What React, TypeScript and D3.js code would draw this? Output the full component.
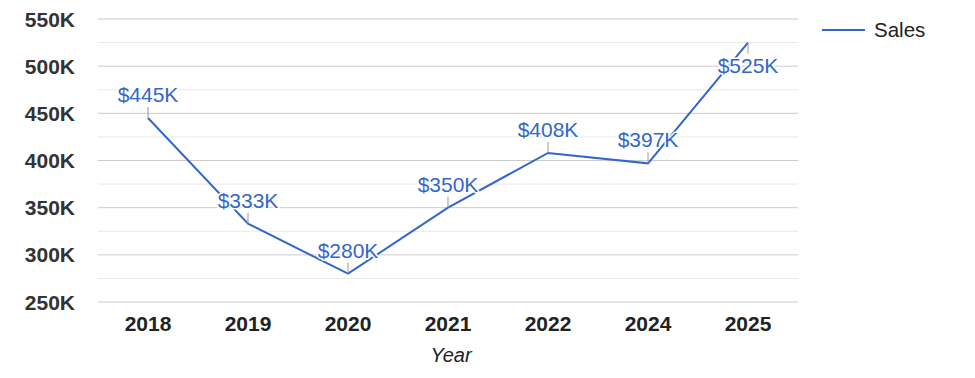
import React from "react";
import * as d3 from "d3";

const years = ["2018", "2019", "2020", "2021", "2022", "2024", "2025"];
const sales = [445, 333, 280, 350, 408, 397, 525];
const labels = ["$445K", "$333K", "$280K", "$350K", "$408K", "$397K", "$525K"];
const labelBelow = [false, false, false, false, false, false, true];
const yTicks = [250, 300, 350, 400, 450, 500, 550];
const minorTicks = [275, 325, 375, 425, 475, 525];

const W = 975, H = 378;
const M = { left: 98, right: 798, top: 19, bottom: 302 };
const FONT = "'Liberation Sans', Arial, sans-serif";
const BLUE = "#3366cc";

export default function App() {
  const x = d3.scalePoint<string>().domain(years).range([M.left, M.right]).padding(0.5);
  const y = d3.scaleLinear().domain([250, 550]).range([M.bottom, M.top]);
  const line = d3.line<number>().x((_, i) => x(years[i])!).y((d) => y(d));
  return (
    <svg width={W} height={H} style={{ position: "absolute", left: 0, top: 0, fontFamily: FONT }}>
      {minorTicks.map((t) => (
        <line key={"m" + t} x1={M.left} x2={M.right} y1={y(t)} y2={y(t)} stroke="#e8e8e8" strokeWidth={1} />
      ))}
      {yTicks.map((t) => (
        <g key={t}>
          <line x1={M.left} x2={M.right} y1={y(t)} y2={y(t)} stroke="#cccccc" strokeWidth={1} />
          <text x={75} y={y(t) + 7.5} textAnchor="end" fontSize={21} fontWeight="bold" fill="#333">
            {t}K
          </text>
        </g>
      ))}
      {years.map((yr) => (
        <text key={yr} x={x(yr)} y={331} textAnchor="middle" fontSize={21} fontWeight="bold" fill="#222">
          {yr}
        </text>
      ))}
      <text x={451} y={362} textAnchor="middle" fontSize={20} fontStyle="italic" fill="#222">
        Year
      </text>
      <path d={line(sales)!} fill="none" stroke={BLUE} strokeWidth={2} />
      {sales.map((v, i) => {
        const below = labelBelow[i];
        const py = y(v);
        return (
          <g key={i}>
            <line
              x1={x(years[i])}
              x2={x(years[i])}
              y1={py}
              y2={below ? py + 11 : py - 11}
              stroke="#999"
              strokeWidth={1}
            />
            <text
              x={x(years[i])}
              y={below ? py + 30 : py - 16}
              textAnchor="middle"
              fontSize={21}
              fill={BLUE}
              stroke="#fff"
              strokeWidth={3}
              paintOrder="stroke"
              strokeLinejoin="round"
            >
              {labels[i]}
            </text>
          </g>
        );
      })}
      <line x1={822} x2={865} y1={30} y2={30} stroke={BLUE} strokeWidth={2} />
      <text x={874} y={37} fontSize={20.5} fill="#222">
        Sales
      </text>
    </svg>
  );
}
